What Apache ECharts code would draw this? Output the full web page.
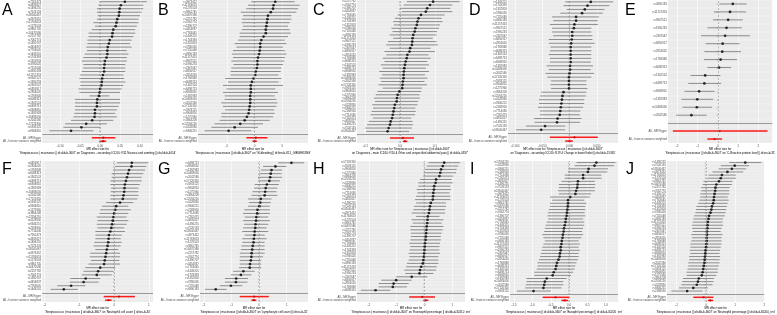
<!DOCTYPE html>
<html>
<head>
<meta charset="utf-8">
<script src="https://cdn.jsdelivr.net/npm/echarts@6/dist/echarts.min.js"></script>
<style>
html, body { margin: 0; padding: 0; background: #fff; }
#main { width: 777px; height: 315px; }
</style>
</head>
<body>
<div id="main"></div>
<script>
// SNP ids (too small to read in the figure, kept as plausible ids)
const snpPool = ['rs7262473', 'rs4835827', 'rs1496255', 'rs7526133', 'rs58540467', 'rs4973452', 'rs11763653',
  'rs1276503', 'rs9861745', 'rs10470586', 'rs2257782', 'rs7062774', 'rs1390707', 'rs4454837', 'rs7763045',
  'rs1449201', 'rs1743393', 'rs1352803', 'rs3780026', 'rs7155048', 'rs4990183', 'rs11157453', 'rs9947521',
  'rs1990233', 'rs2307047', 'rs6856917', 'rs2854020', 'rs1769848', 'rs6088313', 'rs1302524', 'rs6498713',
  'rs6908810', 'rs1392983', 'rs10483056', 'rs2042580', 'rs17126350', 'rs5933125', 'rs9904810', 'rs1275960',
  'rs3864208', 'rs12594216', 'rs4128830', 'rs9346251', 'rs2168950', 'rs7714036']
const summaryLabels = ['All - Inverse variance weighted', 'All - MR Egger']

// A: nausea and vomiting (rows top -> bottom)
const aBeta = [0.062, 0.052, 0.049, 0.048, 0.047, 0.043, 0.041, 0.039, 0.033, 0.031, 0.030, 0.024, 0.022, 0.019, 0.018, 0.018, 0.016, 0.012, 0.011, 0.010, 0.010, 0.007, 0.005, 0.004, 0.003, 0.000, -0.001, -0.003, -0.007, -0.008, -0.008, -0.013, -0.013, -0.014, -0.020, -0.035, -0.047, -0.073]
const aLo = [0.000, -0.004, -0.008, -0.008, -0.006, -0.008, -0.017, -0.013, -0.021, -0.029, -0.029, -0.032, -0.032, -0.035, -0.033, -0.038, -0.042, -0.046, -0.042, -0.043, -0.046, -0.050, -0.052, -0.050, -0.050, -0.054, -0.052, -0.027, -0.063, -0.063, -0.063, -0.063, -0.065, -0.067, -0.073, -0.088, -0.092, -0.127]
const aHi = [0.117, 0.108, 0.108, 0.104, 0.100, 0.096, 0.096, 0.092, 0.088, 0.088, 0.083, 0.079, 0.075, 0.079, 0.067, 0.071, 0.067, 0.067, 0.063, 0.063, 0.063, 0.058, 0.060, 0.063, 0.058, 0.054, 0.050, 0.023, 0.050, 0.050, 0.046, 0.042, 0.038, 0.042, 0.033, 0.017, 0.000, -0.017]
const aEgger = [0.008, -0.021, 0.038]
const aIvw = [0.007, -0.002, 0.015]
const aTicks = [-0.1, -0.05, 0, 0.05, 0.1]

// B: GI bleeding
const bBeta = [3.7, 3.4, 3.3, 2.9, 2.4, 2.3, 2.2, 2.1, 2.0, 2.0, 1.6, 1.2, 1.0, 1.0, 0.9, 0.8, 0.6, 0.5, 0.5, 0.4, 0.2, 0.1, -0.2, -0.5, -0.7, -0.7, -0.7, -0.8, -0.8, -0.8, -0.9, -1.0, -1.1, -1.4, -1.8, -2.6, -3.6, -4.7]
const bLo = [-0.6, -1.2, -1.5, -2.5, -2.1, -2.3, -2.3, -2.1, -2.3, -2.7, -2.7, -3.0, -3.6, -3.3, -3.9, -4.1, -3.9, -4.2, -3.8, -4.2, -4.3, -4.3, -5.3, -4.8, -5.7, -5.1, -5.7, -5.4, -5.4, -6.0, -5.7, -5.3, -6.0, -6.0, -6.3, -7.2, -7.8, -9.0]
const bHi = [7.2, 8.1, 7.8, 7.5, 6.6, 6.6, 6.3, 6.0, 6.3, 6.5, 6.0, 5.4, 5.7, 5.1, 5.4, 5.7, 5.4, 5.3, 5.1, 4.8, 4.7, 4.3, 4.8, 4.3, 5.1, 3.7, 4.2, 3.6, 3.9, 4.1, 3.9, 3.5, 3.6, 3.3, 2.7, 1.5, 0.6, -0.6]
const bEgger = [0.2, -1.5, 2.3]
const bIvw = [0.0, -0.4, 0.4]
const bTicks = [-5, 0, 5]

// C: abdominal pain
const cBeta = [0.095, 0.086, 0.078, 0.074, 0.060, 0.053, 0.050, 0.048, 0.044, 0.042, 0.038, 0.036, 0.035, 0.034, 0.029, 0.027, 0.021, 0.019, 0.016, 0.014, 0.012, 0.011, 0.010, 0.010, 0.008, 0.007, 0.006, -0.002, -0.007, -0.009, -0.010, -0.015, -0.017, -0.019, -0.021, -0.023, -0.027, -0.029, -0.033, -0.036]
const cLo = [0.019, 0.010, 0.000, 0.005, -0.007, -0.015, -0.020, -0.018, -0.025, -0.022, -0.030, -0.020, -0.035, -0.040, -0.030, -0.045, -0.040, -0.050, -0.045, -0.055, -0.050, -0.060, -0.052, -0.058, -0.055, -0.062, -0.050, -0.065, -0.070, -0.075, -0.072, -0.080, -0.078, -0.082, -0.085, -0.078, -0.090, -0.095, -0.100, -0.098]
const cHi = [0.171, 0.150, 0.145, 0.150, 0.128, 0.120, 0.122, 0.115, 0.112, 0.106, 0.105, 0.094, 0.105, 0.108, 0.088, 0.100, 0.082, 0.088, 0.078, 0.083, 0.074, 0.083, 0.072, 0.079, 0.070, 0.077, 0.063, 0.061, 0.056, 0.057, 0.052, 0.050, 0.044, 0.045, 0.043, 0.032, 0.036, 0.037, 0.034, 0.026]
const cEgger = [0.008, -0.029, 0.040]
const cIvw = [0.014, 0.008, 0.021]
const cTicks = [-0.1, 0, 0.1]

// D: change in bowel habit
const dBeta = [0.039, 0.033, 0.028, 0.023, 0.012, 0.012, 0.009, 0.008, 0.005, 0.005, 0.004, 0.003, 0.002, 0.002, 0.002, 0.002, 0.002, 0.001, 0.001, 0.000, -0.001, -0.001, -0.001, -0.001, -0.011, -0.013, -0.014, -0.015, -0.016, -0.017, -0.018, -0.022, -0.023, -0.045, -0.052]
const dLo = [-0.008, -0.011, -0.005, -0.017, -0.032, -0.030, -0.036, -0.032, -0.032, -0.030, -0.038, -0.038, -0.035, -0.036, -0.038, -0.036, -0.036, -0.042, -0.038, -0.044, -0.041, -0.034, -0.035, -0.034, -0.052, -0.054, -0.056, -0.056, -0.058, -0.054, -0.054, -0.065, -0.064, -0.080, -0.098]
const dHi = [0.080, 0.073, 0.064, 0.061, 0.054, 0.052, 0.052, 0.040, 0.040, 0.042, 0.042, 0.046, 0.040, 0.040, 0.040, 0.040, 0.039, 0.043, 0.039, 0.045, 0.040, 0.031, 0.031, 0.033, 0.031, 0.030, 0.027, 0.027, 0.025, 0.020, 0.019, 0.022, 0.019, -0.008, -0.008]
const dEgger = [0.009, -0.036, 0.052]
const dIvw = [0.000, -0.008, 0.006]
const dTicks = [-0.1, -0.05, 0, 0.05]

// E: C-reactive protein
const eBeta = [0.74, 0.60, 0.51, 0.43, 0.36, 0.24, 0.22, 0.14, 0.06, -0.62, -0.66, -0.92, -1.01, -1.03, -1.30]
const eLo = [0.08, -0.19, -0.24, -0.51, -0.82, -0.60, -0.66, -0.68, -0.51, -1.34, -1.45, -1.64, -1.79, -1.74, -2.05]
const eHi = [1.42, 1.39, 1.23, 1.18, 1.58, 1.07, 1.14, 0.95, 0.66, 0.13, 0.16, -0.16, -0.22, -0.28, -0.55]
const eEgger = [0.09, -2.21, 2.45]
const eIvw = [-0.16, -0.51, 0.21]
const eTicks = [-2, -1, 0, 1, 2]

// F: neutrophil count
const fBeta = [0.51, 0.50, 0.43, 0.40, 0.37, 0.34, 0.31, 0.30, 0.29, 0.27, 0.25, 0.17, 0.06, 0.03, 0.00, -0.02, -0.04, -0.06, -0.08, -0.11, -0.15, -0.16, -0.17, -0.19, -0.21, -0.23, -0.25, -0.27, -0.29, -0.40, -0.46, -0.50, -0.82, -0.88, -1.24, -1.45]
const fLo = [0.08, 0.03, -0.02, -0.07, -0.07, -0.11, -0.11, -0.09, -0.10, -0.11, -0.11, -0.23, -0.35, -0.40, -0.42, -0.50, -0.48, -0.50, -0.48, -0.54, -0.54, -0.54, -0.57, -0.59, -0.54, -0.69, -0.70, -0.67, -0.74, -0.83, -0.88, -0.93, -1.26, -1.28, -1.64, -1.83]
const fHi = [0.98, 0.93, 0.89, 0.84, 0.79, 0.79, 0.74, 0.70, 0.70, 0.70, 0.67, 0.55, 0.41, 0.48, 0.41, 0.36, 0.41, 0.36, 0.29, 0.31, 0.22, 0.19, 0.22, 0.19, 0.12, 0.17, 0.17, 0.15, 0.17, 0.03, -0.02, -0.07, -0.40, -0.45, -0.83, -1.05]
const fEgger = [0.14, -0.30, 0.60]
const fIvw = [-0.16, -0.26, -0.07]
const fTicks = [-2, -1, 0, 1]

// G: lymphocyte count
const gBeta = [1.17, 0.59, 0.45, 0.42, 0.40, 0.37, 0.28, 0.24, 0.22, 0.20, 0.06, 0.04, 0.01, -0.06, -0.07, -0.10, -0.11, -0.13, -0.14, -0.16, -0.17, -0.19, -0.20, -0.23, -0.25, -0.27, -0.28, -0.30, -0.33, -0.34, -0.57, -0.66, -0.83, -0.84, -1.02, -1.57]
const gLo = [0.69, 0.14, 0.06, 0.02, -0.04, -0.01, -0.16, -0.18, -0.24, -0.28, -0.40, -0.37, -0.40, -0.54, -0.58, -0.52, -0.58, -0.54, -0.58, -0.61, -0.52, -0.61, -0.61, -0.64, -0.66, -0.70, -0.70, -0.70, -0.70, -0.73, -0.94, -1.02, -1.24, -1.24, -1.42, -1.96]
const gHi = [1.63, 0.99, 0.83, 0.81, 0.83, 0.75, 0.71, 0.66, 0.63, 0.66, 0.45, 0.42, 0.39, 0.39, 0.39, 0.33, 0.39, 0.33, 0.27, 0.33, 0.20, 0.27, 0.20, 0.20, 0.20, 0.20, 0.14, 0.08, 0.08, 0.08, -0.16, -0.28, -0.40, -0.42, -0.61, -1.18]
const gEgger = [-0.18, -0.70, 0.35]
const gIvw = [-0.19, -0.28, -0.10]
const gTicks = [-2, -1, 0, 1]

// H: eosinophil percentage
const hBeta = [0.71, 0.66, 0.60, 0.57, 0.54, 0.42, 0.40, 0.35, 0.34, 0.32, 0.31, 0.30, 0.23, 0.20, 0.18, 0.16, 0.12, 0.11, 0.10, 0.08, 0.07, 0.06, 0.05, 0.04, 0.02, 0.01, 0.00, -0.01, -0.02, -0.04, -0.06, -0.12, -0.16, -0.18, -0.46, -1.02, -1.11, -1.14, -1.76]
const hLo = [0.14, 0.08, 0.02, -0.01, -0.04, -0.16, -0.22, -0.22, -0.28, -0.25, -0.30, -0.34, -0.30, -0.37, -0.40, -0.46, -0.30, -0.46, -0.42, -0.51, -0.51, -0.49, -0.49, -0.51, -0.54, -0.51, -0.54, -0.57, -0.54, -0.57, -0.63, -0.66, -0.73, -0.69, -1.02, -1.56, -1.65, -1.65, -2.29]
const hHi = [1.28, 1.22, 1.16, 1.14, 1.04, 0.98, 1.02, 0.93, 0.95, 0.90, 0.93, 0.93, 0.78, 0.78, 0.74, 0.74, 0.54, 0.68, 0.62, 0.68, 0.66, 0.62, 0.59, 0.59, 0.56, 0.54, 0.54, 0.56, 0.50, 0.50, 0.50, 0.44, 0.42, 0.32, 0.11, -0.46, -0.57, -0.63, -1.23]
const hEgger = [-0.08, -0.55, 0.38]
const hIvw = [0.04, -0.04, 0.14]
const hTicks = [-2, -1, 0, 1]

// I: basophil percentage
const iBeta = [0.74, 0.69, 0.53, 0.51, 0.38, 0.38, 0.24, 0.23, 0.22, 0.19, 0.17, 0.03, -0.03, -0.03, -0.04, -0.05, -0.06, -0.07, -0.09, -0.10, -0.12, -0.14, -0.15, -0.17, -0.18, -0.20, -0.21, -0.23, -0.23, -0.25, -0.26, -0.29, -0.33, -0.35, -0.37, -0.42, -0.45, -0.61, -0.66, -0.68, -0.70, -0.97]
const iLo = [0.20, 0.15, -0.01, -0.03, -0.12, -0.12, -0.21, -0.28, -0.28, -0.30, -0.28, -0.52, -0.46, -0.52, -0.52, -0.55, -0.57, -0.59, -0.57, -0.61, -0.64, -0.66, -0.68, -0.73, -0.70, -0.66, -0.70, -0.73, -0.75, -0.77, -0.79, -0.82, -0.86, -0.86, -0.88, -0.95, -0.95, -1.16, -1.16, -1.18, -1.20, -1.42]
const iHi = [1.26, 1.22, 1.06, 1.04, 0.88, 0.88, 0.70, 0.71, 0.70, 0.70, 0.60, 0.56, 0.41, 0.47, 0.44, 0.44, 0.42, 0.44, 0.38, 0.41, 0.41, 0.38, 0.35, 0.38, 0.33, 0.26, 0.29, 0.26, 0.29, 0.26, 0.26, 0.24, 0.20, 0.17, 0.15, 0.11, 0.05, -0.07, -0.16, -0.16, -0.21, -0.50]
const iEgger = [-0.37, -0.72, 0.00]
const iIvw = [-0.12, -0.21, -0.03]
const iTicks = [-1.5, -1, -0.5, 0, 0.5, 1]

// J: neutrophil percentage
const jBeta = [1.35, 0.99, 0.89, 0.74, 0.55, 0.51, 0.45, 0.36, 0.33, 0.32, 0.30, 0.28, 0.27, 0.25, 0.21, 0.19, 0.16, 0.11, 0.09, 0.07, 0.06, 0.05, 0.04, 0.04, 0.03, 0.03, 0.02, 0.01, -0.01, -0.02, -0.03, -0.04, -0.05, -0.07, -0.09, -0.11, -0.14, -0.24, -0.27, -0.31, -0.43, -0.64]
const jLo = [0.80, 0.51, 0.44, 0.23, 0.09, 0.05, -0.08, -0.11, -0.16, -0.16, -0.19, -0.19, -0.22, -0.26, -0.32, -0.34, -0.36, -0.40, -0.43, -0.45, -0.47, -0.47, -0.45, -0.50, -0.47, -0.50, -0.53, -0.53, -0.55, -0.53, -0.57, -0.57, -0.60, -0.60, -0.63, -0.66, -0.66, -0.78, -0.81, -0.84, -0.92, -1.18]
const jHi = [1.90, 1.48, 1.38, 1.28, 1.03, 1.03, 0.91, 0.89, 0.82, 0.80, 0.80, 0.75, 0.78, 0.75, 0.72, 0.70, 0.68, 0.65, 0.59, 0.57, 0.59, 0.54, 0.51, 0.57, 0.54, 0.54, 0.54, 0.51, 0.49, 0.47, 0.49, 0.47, 0.47, 0.44, 0.41, 0.41, 0.36, 0.28, 0.26, 0.23, 0.07, -0.11]
const jEgger = [-0.08, -0.43, 0.26]
const jIvw = [0.15, 0.07, 0.25]
const jTicks = [-1, 0, 1, 2]

const expo = "'Streptococcus | mucinosus || id:ukb-b-3607'"

const panels = [
  { letter: 'A', beta: aBeta, lo: aLo, hi: aHi, egger: aEgger, ivw: aIvw, ticks: aTicks, dec: 2, min: -0.145, max: 0.1325, box: [42, 0, 111, 143], lx: 2, off: 0,
    name: 'MR effect size for\n' + expo + " on 'Diagnoses - secondary ICD10: R11 Nausea and vomiting || id:ukb-b-4054'" },
  { letter: 'B', beta: bBeta, lo: bLo, hi: bHi, egger: bEgger, ivw: bIvw, ticks: bTicks, dec: 0, min: -10.2, max: 9.6, box: [198, 0, 110, 143], lx: 158, off: 5,
    name: 'MR effect size for\n' + expo + " on 'GI-bleeding || id:finn-b-K11_GIBLEEDING'" },
  { letter: 'C', beta: cBeta, lo: cLo, hi: cHi, egger: cEgger, ivw: cIvw, ticks: cTicks, dec: 1, min: -0.124, max: 0.181, box: [357, 0, 106, 143], lx: 313, off: 10,
    name: 'MR effect size for ' + expo + "\non 'Diagnoses - main ICD10: R10.4 Other and unspecified abdominal pain || id:ukb-b-4337'" },
  { letter: 'D', beta: dBeta, lo: dLo, hi: dHi, egger: dEgger, ivw: dIvw, ticks: dTicks, dec: 3, min: -0.113, max: 0.089, box: [508, 0, 110, 143], lx: 469, off: 15,
    name: 'MR effect size for ' + expo + "\non 'Diagnoses - secondary ICD10: R19.4 Change in bowel habit || id:ukb-b-15365'" },
  { letter: 'E', beta: eBeta, lo: eLo, hi: eHi, egger: eEgger, ivw: eIvw, ticks: eTicks, dec: 0, min: -2.45, max: 2.68, box: [668, 0, 108, 143], lx: 625, off: 20,
    name: 'MR effect size for\n' + expo + " on 'C-Reactive protein level || id:ieu-b-35'" },
  { letter: 'F', beta: fBeta, lo: fLo, hi: fHi, egger: fEgger, ivw: fIvw, ticks: fTicks, dec: 0, min: -2.07, max: 1.12, box: [42, 161, 111, 141], lx: 2, off: 25,
    name: 'MR effect size for\n' + expo + " on 'Neutrophil cell count || id:ieu-b-34'" },
  { letter: 'G', beta: gBeta, lo: gLo, hi: gHi, egger: gEgger, ivw: gIvw, ticks: gTicks, dec: 0, min: -2.14, max: 1.77, box: [200, 161, 108, 141], lx: 158, off: 30,
    name: 'MR effect size for\n' + expo + " on 'Lymphocyte cell count || id:ieu-b-32'" },
  { letter: 'H', beta: hBeta, lo: hLo, hi: hHi, egger: hEgger, ivw: hIvw, ticks: hTicks, dec: 0, min: -2.43, max: 1.46, box: [357, 161, 108, 141], lx: 313, off: 35,
    name: 'MR effect size for\n' + expo + " on 'Eosinophil percentage || id:ukb-d-30210_irnt'" },
  { letter: 'I', beta: iBeta, lo: iLo, hi: iHi, egger: iEgger, ivw: iIvw, ticks: iTicks, dec: 1, min: -1.61, max: 1.33, box: [510, 161, 108, 141], lx: 470, off: 40,
    name: 'MR effect size for\n' + expo + " on 'Basophil percentage || id:ukb-d-30220_irnt'" },
  { letter: 'J', beta: jBeta, lo: jLo, hi: jHi, egger: jEgger, ivw: jIvw, ticks: jTicks, dec: 0, min: -1.33, max: 2.0, box: [667, 161, 108, 141], lx: 626, off: 2,
    name: 'MR effect size for\n' + expo + " on 'Neutrophil percentage || id:ukb-d-30200_irnt'" }
]

// horizontal error bar drawn through the axes
function errBar (color, width) {
  return function (params, api) {
    const a = api.coord([api.value(0), api.value(2)])
    const b = api.coord([api.value(1), api.value(2)])
    return {
      type: 'line',
      shape: { x1: a[0], y1: a[1], x2: b[0], y2: b[1] },
      style: { stroke: color, lineWidth: width }
    }
  }
}

const grids = []
const xAxes = []
const yAxes = []
const series = []
const graphics = []

panels.forEach(function (p, i) {
  const n = p.beta.length
  const labels = snpPool.slice(p.off).concat(snpPool).slice(0, n)
  // category axis runs bottom -> top
  const cats = summaryLabels.concat([''], labels.slice().reverse())
  const rowIdx = function (j) { return 3 + (n - 1 - j) }

  grids.push({
    left: p.box[0], top: p.box[1], width: p.box[2], height: p.box[3],
    show: true, backgroundColor: '#ebebeb', borderWidth: 0
  })
  const bottomRow = p.box[1] > 100
  xAxes.push({
    gridIndex: i, type: 'value', min: p.min, max: p.max,
    axisLine: { show: false },
    axisTick: { customValues: p.ticks, length: 1.2, lineStyle: { color: '#333', width: 0.5 } },
    axisLabel: {
      customValues: p.ticks, fontSize: 3, color: '#4d4d4d', margin: 1.2,
      formatter: function (v) { return Number(v).toFixed(p.dec) }
    },
    splitLine: { show: true, lineStyle: { color: '#ffffff', width: 0.6 } },
    name: p.name, nameLocation: 'middle', nameGap: bottomRow ? 5 : 3.6,
    nameTextStyle: { fontSize: 2.9, lineHeight: 3.1, color: '#000' }
  })
  yAxes.push({
    gridIndex: i, type: 'category', data: cats,
    axisLine: { show: false },
    axisTick: { show: true, alignWithLabel: true, length: 1, lineStyle: { color: '#333', width: 0.4 } },
    axisLabel: { interval: 0, fontSize: 2.8, color: '#4d4d4d', margin: 1.2 },
    splitLine: { show: true, interval: 0, lineStyle: { color: '#ffffff', width: 0.35 } }
  })

  const bars = p.beta.map(function (b, j) { return [p.lo[j], p.hi[j], rowIdx(j)] })
  const pts = p.beta.map(function (b, j) { return [b, rowIdx(j)] })

  series.push({
    type: 'scatter', xAxisIndex: i, yAxisIndex: i, data: [], silent: true,
    markLine: {
      silent: true, symbol: 'none', label: { show: false },
      data: [
        { xAxis: 0, lineStyle: { color: '#8a8a8a', type: [2, 1.5], width: 0.6 } },
        { yAxis: 2, lineStyle: { color: '#9a9a9a', type: 'solid', width: 1.2 } }
      ]
    }
  })
  series.push({
    type: 'custom', xAxisIndex: i, yAxisIndex: i, clip: true, silent: true,
    renderItem: errBar('#6e6e6e', 0.75), encode: { x: [0, 1], y: 2 }, data: bars
  })
  series.push({
    type: 'custom', xAxisIndex: i, yAxisIndex: i, clip: true, silent: true,
    renderItem: errBar('#ff1a1a', 1.5), encode: { x: [0, 1], y: 2 },
    data: [[p.egger[1], p.egger[2], 1], [p.ivw[1], p.ivw[2], 0]]
  })
  series.push({
    type: 'scatter', xAxisIndex: i, yAxisIndex: i, silent: true, symbolSize: 2.7,
    itemStyle: { color: '#000' }, data: pts
  })
  series.push({
    type: 'scatter', xAxisIndex: i, yAxisIndex: i, silent: true, symbolSize: 2.3,
    itemStyle: { color: '#c00000' }, data: [[p.egger[0], 1], [p.ivw[0], 0]]
  })

  graphics.push({
    type: 'text', left: p.lx, top: bottomRow ? 162 : 3,
    style: { text: p.letter, font: '16px "Liberation Sans", Arial, sans-serif', fill: '#000' }
  })
})

const chart = echarts.init(document.getElementById('main'))
chart.setOption({
  animation: false,
  backgroundColor: '#fff',
  textStyle: { fontFamily: '"Liberation Sans", Arial, sans-serif' },
  grid: grids,
  xAxis: xAxes,
  yAxis: yAxes,
  series: series,
  graphic: graphics
})
</script>
</body>
</html>
